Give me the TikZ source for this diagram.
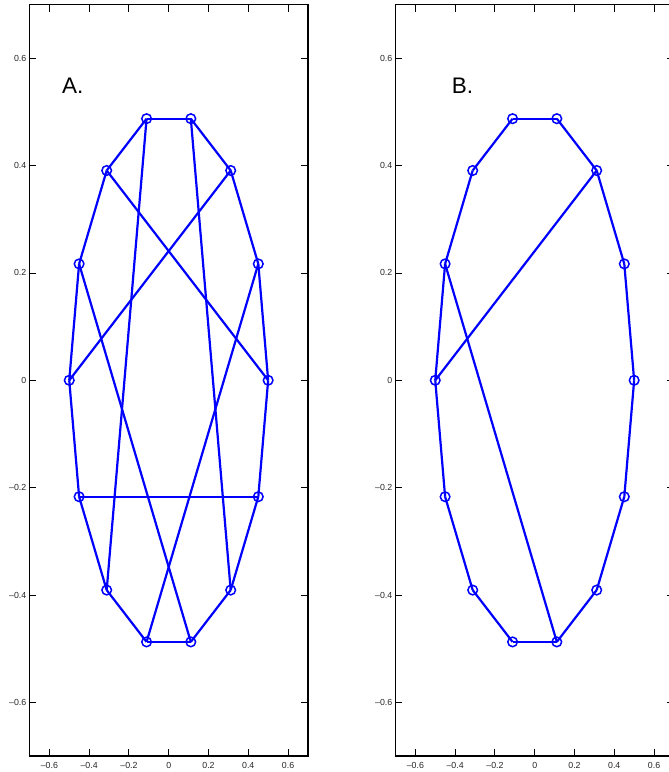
\documentclass[tikz,border=0pt]{standalone}
\usepackage{fontspec}
\setmainfont{Liberation Sans}
\begin{document}
\begin{tikzpicture}[x=1pt,y=1pt,
  edge/.style={blue,line width=2.2pt},
  mk/.style={circle,draw=blue,line width=1.5pt,minimum size=9.6pt,inner sep=0pt},
  frame/.style={black,line width=1.2pt},
  tickmark/.style={black,line width=0.9pt},
  tl/.style={font=\fontsize{8.8}{10}\selectfont,text=black!85,inner sep=0pt},
  panel/.style={font=\fontsize{22.5}{26}\selectfont,inner sep=0pt,anchor=base west}]
\useasboundingbox (0,0) rectangle (669,772);
\clip (0,0) rectangle (669,772);

% ---------- Panel A ----------
\begin{scope}[shift={(168.7,391.7)},x=198.9pt,y=536.7pt]
  \draw[frame] (-0.7,-0.7) rectangle (0.7,0.7);
  \foreach \t/\l in {-0.6/–0.6,-0.4/–0.4,-0.2/–0.2,0/0,0.2/0.2,0.4/0.4,0.6/0.6}{
    \draw[tickmark] (\t,-0.7) -- ++(0,7pt);
    \draw[tickmark] (\t,0.7) -- ++(0,-7pt);
    \draw[tickmark] (-0.7,\t) -- ++(7pt,0);
    \draw[tickmark] (0.7,\t) -- ++(-7pt,0);
    \node[tl,anchor=east] (ay\l) at ([xshift=-3pt]-0.7,\t) {\l};
    \node[tl] (ax\l) at ([yshift=-9.5pt]\t,-0.7) {\l};
  }
  \foreach \k in {0,...,13}
    \node[mk] (a\k) at ({0.5*cos(\k*360/14)},{0.5*sin(\k*360/14)}) {};
  \foreach \i/\j in {0/1,1/2,2/3,3/4,4/5,5/6,6/7,7/8,8/9,9/10,10/11,11/12,12/13,13/0,
                     4/9,3/12,5/0,2/7,6/11,1/10,8/13}
    \draw[edge] (a\i.center) -- (a\j.center);
\end{scope}
\node[panel] (labA) at (62,678.7) {A.};

% ---------- Panel B ----------
\begin{scope}[shift={(534.7,391.7)},x=198.9pt,y=536.7pt]
  \draw[frame] (-0.7,-0.7) rectangle (0.7,0.7);
  \foreach \t/\l in {-0.6/–0.6,-0.4/–0.4,-0.2/–0.2,0/0,0.2/0.2,0.4/0.4,0.6/0.6}{
    \draw[tickmark] (\t,-0.7) -- ++(0,7pt);
    \draw[tickmark] (\t,0.7) -- ++(0,-7pt);
    \draw[tickmark] (-0.7,\t) -- ++(7pt,0);
    \draw[tickmark] (0.7,\t) -- ++(-7pt,0);
    \node[tl,anchor=east] (by\l) at ([xshift=-3pt]-0.7,\t) {\l};
    \node[tl] (bx\l) at ([yshift=-9.5pt]\t,-0.7) {\l};
  }
  \foreach \k in {0,...,13}
    \node[mk] (b\k) at ({0.5*cos(\k*360/14)},{0.5*sin(\k*360/14)}) {};
  \foreach \i/\j in {0/1,1/2,2/3,3/4,4/5,5/6,6/7,7/8,8/9,9/10,10/11,11/12,12/13,13/0,
                     2/7,6/11}
    \draw[edge] (b\i.center) -- (b\j.center);
\end{scope}
\node[panel] (labB) at (451.7,678) {B.};
\end{tikzpicture}
\end{document}
